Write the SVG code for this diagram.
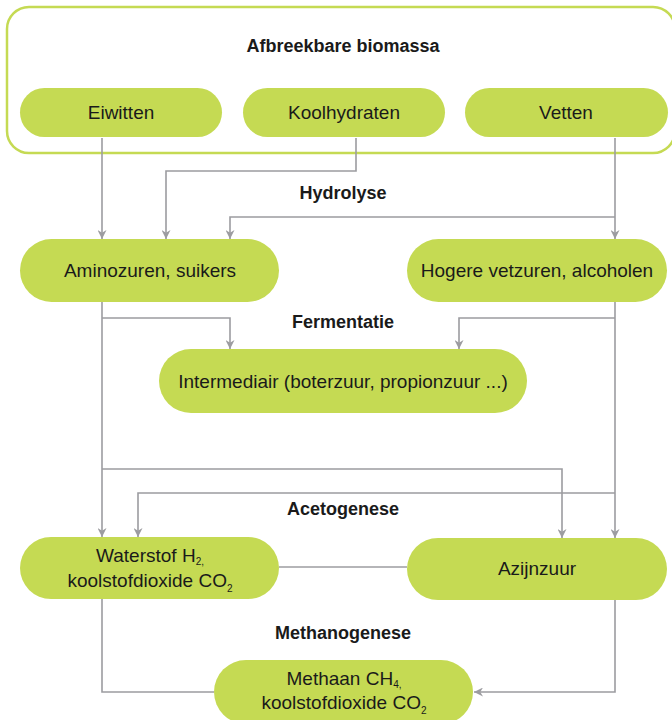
<svg xmlns="http://www.w3.org/2000/svg" width="672" height="720" viewBox="0 0 672 720">
<defs>
<style>
.pill{fill:#c5da53}
.frame{fill:none;stroke:#c5da53;stroke-width:2.5}
.t{font-family:"Liberation Sans",Arial,sans-serif;font-size:19px;fill:#1a1a1a;text-anchor:middle}
.lab{font-family:"Liberation Sans",Arial,sans-serif;font-size:18px;font-weight:bold;fill:#1a1a1a;text-anchor:middle}
.sub{font-size:10px}
.c{fill:none;stroke:#9c9ca0;stroke-width:1.6}
.a{marker-end:url(#arr)}
</style>
<marker id="arr" viewBox="0 0 10 10" refX="10" refY="5" markerWidth="10" markerHeight="9" markerUnits="userSpaceOnUse" orient="auto">
<path d="M0,0 L10,5 L0,10 L3,5 z" fill="#9c9ca0"/>
</marker>
</defs>
<rect width="672" height="720" fill="#ffffff"/>
<g id="biomassa">
<rect class="frame" x="7" y="7" width="668" height="146" rx="22"/>
<text class="lab" x="343" y="52">Afbreekbare biomassa</text>
</g>
<g id="connectors">
<path class="c a" d="M102,138 V239"/>
<path class="c a" d="M356,138 V171 H166 V239"/>
<path class="c a" d="M615,138 V239"/>
<path class="c a" d="M615,217 H230 V239"/>
<path class="c a" d="M102,302 V537"/>
<path class="c a" d="M102,318 H230 V349"/>
<path class="c a" d="M615,302 V538"/>
<path class="c a" d="M615,318 H459 V349"/>
<path class="c a" d="M102,469 H562 V538"/>
<path class="c a" d="M615,493 H138 V537"/>
<path class="c" d="M279,567 H407"/>
<path class="c" d="M102,599 V692 H214"/>
<path class="c a" d="M615,600 V692 H474"/>
</g>
<g id="labels">
<text class="lab" x="343" y="199">Hydrolyse</text>
<text class="lab" x="343" y="328">Fermentatie</text>
<text class="lab" x="343" y="515">Acetogenese</text>
<text class="lab" x="343" y="639">Methanogenese</text>
</g>
<g id="eiwitten">
<rect class="pill" x="20" y="88" width="202" height="49" rx="24.5"/>
<text class="t" x="121" y="119">Eiwitten</text>
</g>
<g id="koolhydraten">
<rect class="pill" x="243" y="88" width="202" height="49" rx="24.5"/>
<text class="t" x="344" y="119">Koolhydraten</text>
</g>
<g id="vetten">
<rect class="pill" x="465" y="88" width="203" height="49" rx="24.5"/>
<text class="t" x="566" y="119">Vetten</text>
</g>
<g id="aminozuren">
<rect class="pill" x="20" y="239" width="259" height="63" rx="31.5"/>
<text class="t" x="150" y="277">Aminozuren, suikers</text>
</g>
<g id="vetzuren">
<rect class="pill" x="407" y="239" width="260" height="63" rx="31.5"/>
<text class="t" x="537" y="277">Hogere vetzuren, alcoholen</text>
</g>
<g id="intermediair">
<rect class="pill" x="159" y="349" width="368" height="64" rx="32"/>
<text class="t" x="343" y="388">Intermediair (boterzuur, propionzuur ...)</text>
</g>
<g id="waterstof">
<rect class="pill" x="20" y="537" width="259" height="62" rx="31"/>
<text class="t" x="150" y="562">Waterstof H<tspan class="sub" dy="3">2,</tspan></text>
<text class="t" x="150" y="587">koolstofdioxide CO<tspan class="sub" dy="5">2</tspan></text>
</g>
<g id="azijnzuur">
<rect class="pill" x="407" y="538" width="260" height="62" rx="31"/>
<text class="t" x="537" y="575">Azijnzuur</text>
</g>
<g id="methaan">
<rect class="pill" x="214" y="660" width="259" height="64" rx="32"/>
<text class="t" x="344" y="685">Methaan CH<tspan class="sub" dy="3">4,</tspan></text>
<text class="t" x="344" y="709">koolstofdioxide CO<tspan class="sub" dy="5">2</tspan></text>
</g>
</svg>
